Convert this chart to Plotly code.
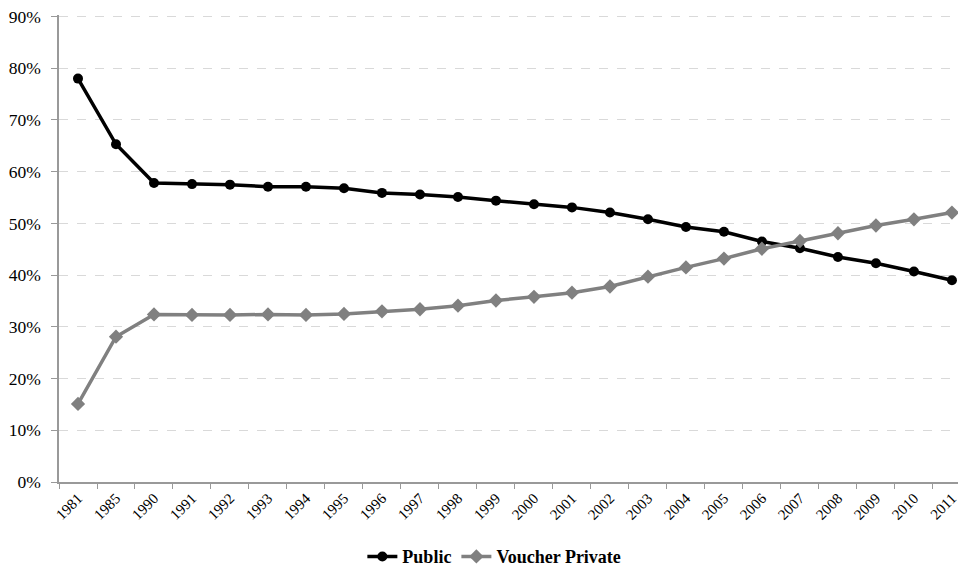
import plotly.graph_objects as go

years = ["1981", "1985", "1990", "1991", "1992", "1993", "1994", "1995", "1996", "1997",
         "1998", "1999", "2000", "2001", "2002", "2003", "2004", "2005", "2006", "2007",
         "2008", "2009", "2010", "2011"]
public = [78.0, 65.3, 57.8, 57.6, 57.5, 57.1, 57.1, 56.8, 55.9, 55.6,
          55.1, 54.4, 53.7, 53.1, 52.1, 50.8, 49.3, 48.4, 46.5, 45.2,
          43.5, 42.3, 40.7, 39.0]
voucher = [15.1, 28.1, 32.4, 32.3, 32.3, 32.4, 32.3, 32.5, 33.0, 33.4,
           34.1, 35.1, 35.8, 36.6, 37.8, 39.7, 41.5, 43.2, 45.1, 46.6,
           48.1, 49.6, 50.8, 52.1]
yticks = [0, 10, 20, 30, 40, 50, 60, 70, 80, 90]

SERIF = "Liberation Serif, Times New Roman, Times, serif"

fig = go.Figure()
fig.add_trace(go.Scatter(x=years, y=public, name="Public", mode="lines+markers",
                         line=dict(color="#000000", width=3.5),
                         marker=dict(symbol="circle", size=10, color="#000000")))
fig.add_trace(go.Scatter(x=years, y=voucher, name="Voucher Private", mode="lines+markers",
                         line=dict(color="#808080", width=3.5),
                         marker=dict(symbol="diamond", size=11, color="#808080")))

fig.update_layout(
    width=958, height=564,
    margin=dict(l=51, r=0, t=7, b=90, autoexpand=False),
    paper_bgcolor="white", plot_bgcolor="white",
    font=dict(family=SERIF, size=15, color="#000000"),
    showlegend=True,
    legend=dict(orientation="h", x=0.48, xanchor="center", y=-0.16, yanchor="middle",
                font=dict(size=18, family=SERIF, weight="bold"),
                itemwidth=30, tracegroupgap=0),
    xaxis=dict(type="category", range=[-0.5, 23.37], tickson="boundaries",
               ticks="outside", ticklen=5, tickcolor="#999999", automargin=False,
               showline=True, linecolor="#999999", linewidth=1.5,
               showgrid=False, tickangle=-45, tickfont=dict(size=15, family=SERIF)),
    yaxis=dict(range=[0, 90.3], tickvals=yticks, ticktext=[f"{v}%" for v in yticks],
               showline=True, linecolor="#999999", linewidth=1.5, automargin=False,
               showgrid=True, gridcolor="#d9d9d9", griddash="dash", gridwidth=1,
               zeroline=False, ticks="outside", ticklen=6, tickcolor="#999999",
               ticklabeloverflow="allow", ticklabelstandoff=7,
               tickfont=dict(size=17.5, family=SERIF)),
)

fig.write_html("out.html")
